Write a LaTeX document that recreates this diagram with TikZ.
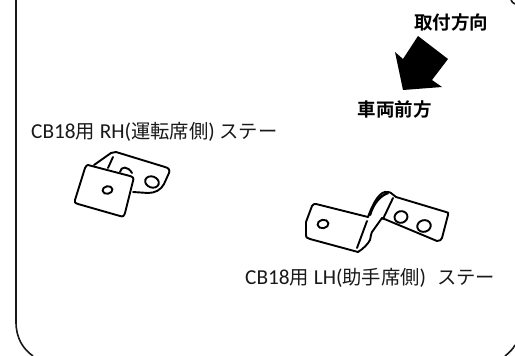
\documentclass[tikz,border=0pt]{standalone}
\usepackage{fontspec}
\setmainfont{Carlito}
\newfontfamily\cjk{Noto Sans CJK JP}
\newfontfamily\cjkb{Noto Sans CJK JP Bold}
\newcommand{\jptext}[1]{{\fontsize{19.3}{19}\selectfont\cjk #1}}
\newcommand{\lat}[1]{{\fontsize{21.3}{21}\selectfont #1}}
\tikzset{
  outline/.style={line width=1.9pt,draw=black,line join=round,line cap=round},
  frameline/.style={line width=1.6pt,draw=black!90},
  lab/.style={inner sep=0pt,text=black!90},
  dir/.style={font=\fontsize{18.5}{18}\selectfont\cjkb,inner sep=0pt}
}
\begin{document}
\begin{tikzpicture}[x=1pt,y=-1pt]
\useasboundingbox (0,0) rectangle (515,356);
\fill[white] (0,0) rectangle (515,356);
\clip (0,0) rectangle (515,356);
\coordinate (ft) at (16,0);
\coordinate (fb) at (33,356);
\draw[frameline] (ft) -- (16,322) .. controls (16,338) and (23,349) .. (fb);
\draw[frameline] (505,356) .. controls (509,353) and (513,349) .. (515,345);
\draw[frameline] (511,0) .. controls (512,2) and (513,3) .. (515,4);
% arrow
\fill[black] (418,36) -- (448,59) -- (432,80) -- (442,87) -- (403,90) -- (395,52) -- (403,59) -- cycle;
\node[dir] (t1) at (451,22) {取付方向};
\node[dir] (t2) at (394.5,109) {車両前方};
\node[lab,anchor=west] (l1) at (31,132) {\lat{CB18}\jptext{用}\lat{ RH(}\jptext{運転席側}\lat{) }\jptext{ステー}};
\node[lab,anchor=west] (l2) at (245,278) {\lat{CB18}\jptext{用}\lat{ LH(}\jptext{助手席側}\lat{)\hspace{6pt} }\jptext{ステー}};
% bracket RH
\draw[outline] (94,165) -- (111,153) .. controls (113,152) and (114,152) .. (116,152) -- (165,167) .. controls (169,168) and (170,170) .. (169,173) -- (164,184) .. controls (161,190) and (155,193) .. (148,193) -- (133,192);
\draw[outline] (108,168) -- (113,157);
\draw[outline] (120,172) .. controls (121,166) and (128,166) .. (132,173);
\draw[outline] (88,165) -- (130,176) .. controls (133,177) and (134,178) .. (133,181) -- (125,213) .. controls (124,216) and (123,217) .. (120,216) -- (78,204) .. controls (75,203) and (74,202) .. (75,200) -- (85,168) .. controls (86,166) and (87,165) .. (88,165) -- cycle;
\draw[outline,rotate around={10:(107.5,190)}] (107.5,190) ellipse (5 and 3.8);
\draw[outline,rotate around={-20:(152,182)}] (152,182) ellipse (7 and 5.5);
% bracket LH
\draw[outline] (368,217) -- (316,204) .. controls (314,204) and (313,204) .. (312,206) -- (306,222) .. controls (306,224) and (306,225) .. (306,226) -- (306,234) .. controls (306,238) and (307,238) .. (310,239) -- (358,252) .. controls (363,249) and (368,244) .. (370,240) .. controls (371,236) and (371,233) .. (372,232) -- (382,218);
\draw[outline] (382,218) -- (437,241) .. controls (440,241) and (441,240) .. (442,238) -- (448,215) .. controls (449,213) and (448,212) .. (446,212) -- (396,197) .. controls (393,196) and (392,192) .. (388,192) .. controls (380,190) and (373,203) .. (368,217);
\draw[line width=2.4pt,line cap=round] (370,215) .. controls (373,205) and (379,196) .. (388,193);
\draw[outline] (367,221) -- (357,248);
\draw[outline] (393,198) -- (383,219);
\draw[outline,rotate around={10:(323,224)}] (323,224) ellipse (5.5 and 4.2);
\draw[outline,rotate around={15:(401,217)}] (401,217) ellipse (6.5 and 5.8);
\draw[outline,rotate around={15:(424,226)}] (424,226) ellipse (6.8 and 5.8);
\end{tikzpicture}
\end{document}
